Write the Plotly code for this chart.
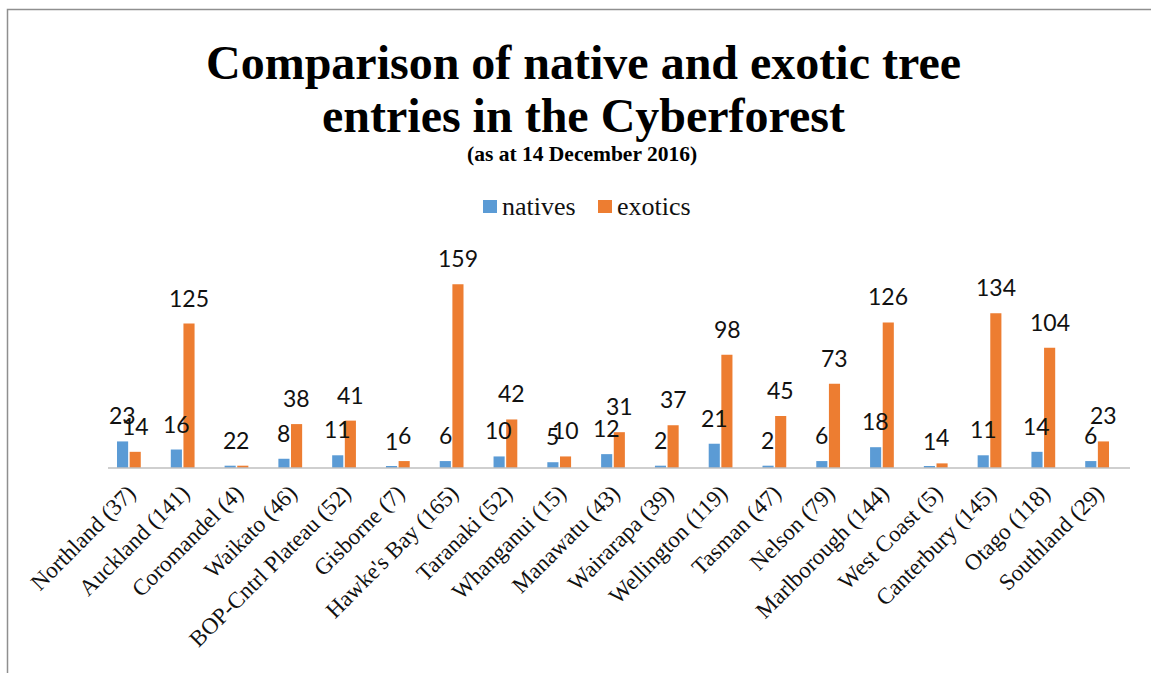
import plotly.graph_objects as go

# Regions with total entry counts, and native / exotic tree entries per region
regions = [
    "Northland (37)", "Auckland (141)", "Coromandel (4)", "Waikato (46)",
    "BOP-Cntrl Plateau (52)", "Gisborne (7)", "Hawke's Bay (165)", "Taranaki (52)",
    "Whanganui (15)", "Manawatu (43)", "Wairarapa (39)", "Wellington (119)",
    "Tasman (47)", "Nelson (79)", "Marlborough (144)", "West Coast (5)",
    "Canterbury (145)", "Otago (118)", "Southland (29)",
]
natives = [23, 16, 2, 8, 11, 1, 6, 10, 5, 12, 2, 21, 2, 6, 18, 1, 11, 14, 6]
exotics = [14, 125, 2, 38, 41, 6, 159, 42, 10, 31, 37, 98, 45, 73, 126, 4, 134, 104, 23]

BLUE = "#5B9BD5"
ORANGE = "#ED7D31"
SERIF = "Liberation Serif"
label_font = dict(family="Lato", size=23, color="#111111")

# Plot area in pixels
W, H = 1151, 673
L, R = 102, 1124
TOP, BOT = 260, 468


def py(pix):
    """Convert a pixel row to paper y coordinate."""
    return (BOT - pix) / (BOT - TOP)


def px(pix):
    """Convert a pixel column to paper x coordinate."""
    return (pix - L) / (R - L)


fig = go.Figure()
series = [("natives", natives, BLUE, -6.5), ("exotics", exotics, ORANGE, 6.5)]
for name, vals, col, _ in series:
    fig.add_trace(go.Bar(
        x=regions, y=vals, name=name,
        marker=dict(color=col, line=dict(width=0)),
        showlegend=False,
    ))

# Value labels above each bar
annotations = []
for name, vals, col, dx in series:
    for reg, v in zip(regions, vals):
        annotations.append(dict(
            x=reg, y=v, xref="x", yref="y", text=str(v), showarrow=False,
            xanchor="center", yanchor="bottom", xshift=dx, yshift=10,
            font=label_font,
        ))

# Title lines
title_font = dict(family=SERIF, size=48, color="black")
annotations += [
    dict(text="<b>Comparison of native and exotic tree</b>", x=px(583), y=py(62),
         xref="paper", yref="paper", xanchor="center", yanchor="middle", showarrow=False,
         font=title_font),
    dict(text="<b>entries in the Cyberforest</b>", x=px(583), y=py(115),
         xref="paper", yref="paper", xanchor="center", yanchor="middle", showarrow=False,
         font=title_font),
    dict(text="<b>(as at 14 December 2016)</b>", x=px(582), y=py(154),
         xref="paper", yref="paper", xanchor="center", yanchor="middle", showarrow=False,
         font=dict(family=SERIF, size=21.5, color="black")),
]

# Legend: coloured squares with serif labels
shapes = []
for name, col, sq_x in [("natives", BLUE, 483), ("exotics", ORANGE, 598)]:
    shapes.append(dict(type="rect", xref="paper", yref="paper",
                       x0=px(sq_x), x1=px(sq_x + 14), y0=py(213), y1=py(200),
                       fillcolor=col, line=dict(width=0)))
    annotations.append(dict(text=name, x=px(sq_x + 17), y=py(206), xref="paper", yref="paper",
                            xanchor="left", yanchor="middle", showarrow=False,
                            font=dict(family=SERIF, size=26, color="#111111")))

# Chart frame and category axis line
shapes += [
    dict(type="rect", xref="paper", yref="paper",
         x0=px(7.5), x1=px(1165), y0=py(700), y1=py(9.5),
         line=dict(color="#8f8f8f", width=1.5), fillcolor="rgba(0,0,0,0)", layer="below"),
    dict(type="line", xref="paper", yref="paper",
         x0=px(108), x1=px(1130), y0=0, y1=0,
         line=dict(color="#bfbfbf", width=1.5)),
]

fig.update_layout(
    width=W, height=H,
    margin=dict(l=L, r=W - R, t=TOP, b=H - BOT, pad=0),
    paper_bgcolor="white", plot_bgcolor="white",
    barmode="group", bargap=0.53, bargroupgap=0.12,
    xaxis=dict(
        tickangle=-45, showgrid=False, showline=False, ticks="", automargin=False,
        ticklabelstandoff=6,
        tickfont=dict(family=SERIF, size=23, color="#111111"),
    ),
    yaxis=dict(range=[0, 180], visible=False, showgrid=False, zeroline=False),
    annotations=annotations,
    shapes=shapes,
)

fig.write_html("out.html")
